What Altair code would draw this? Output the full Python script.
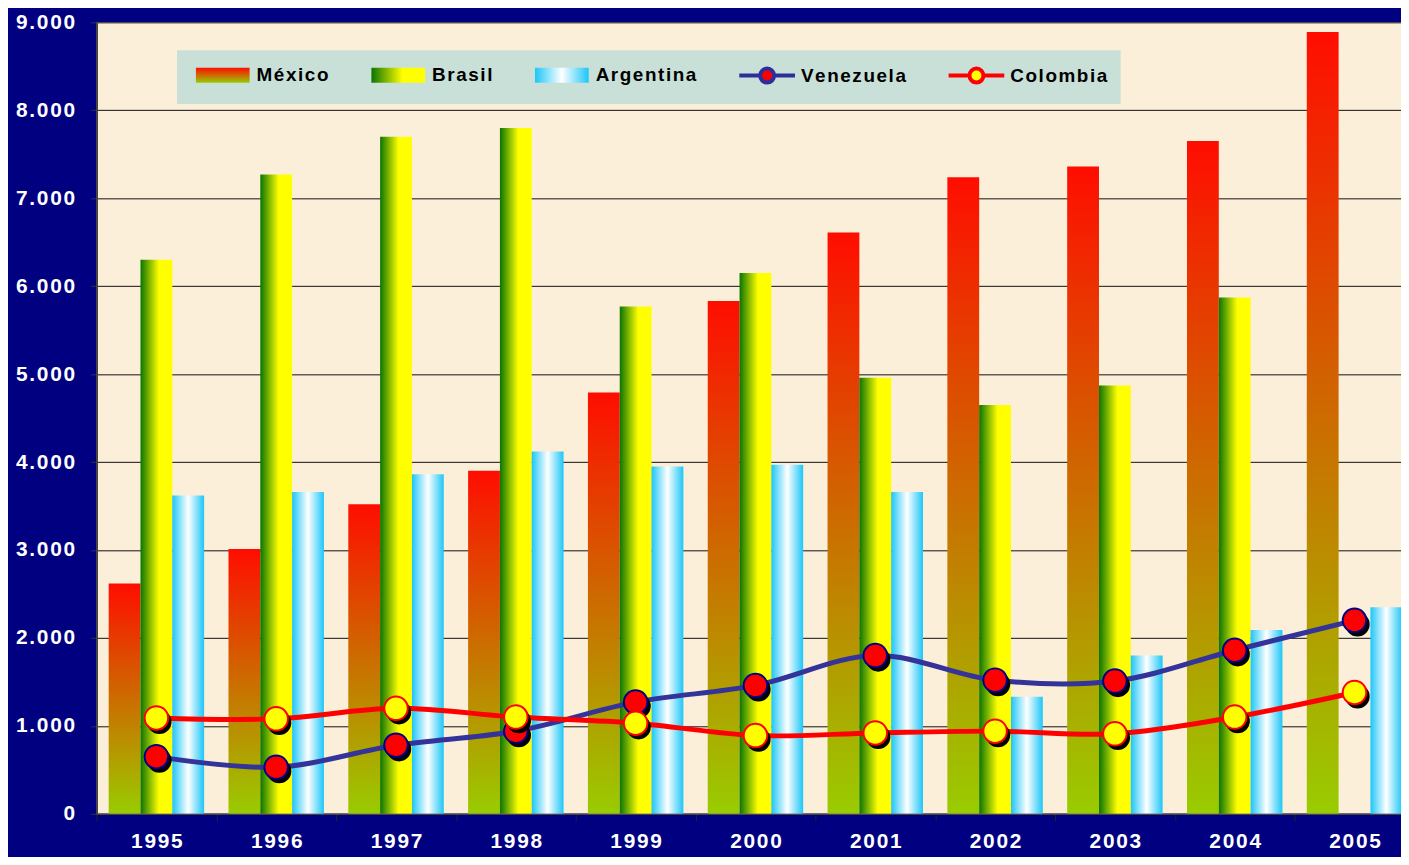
import json
import altair as alt
import pandas as pd

# ---------------- data ----------------
years = ["1995", "1996", "1997", "1998", "1999", "2000",
         "2001", "2002", "2003", "2004", "2005"]
bar_series = ["México", "Brasil", "Argentina"]
line_series = ["Venezuela", "Colombia"]
all_series = bar_series + line_series

mexico = [2620, 3010, 3520, 3900, 4790, 5830, 6610, 7240, 7360, 7650, 8890]
brasil = [6300, 7270, 7700, 7800, 5770, 6150, 4960, 4650, 4870, 5870, None]
argentina = [3620, 3660, 3860, 4120, 3950, 3970, 3660, 1330, 1800, 2090, 2350]
venezuela = [650, 530, 780, 940, 1270, 1460, 1800, 1520, 1510, 1860, 2200]
colombia = [1090, 1080, 1200, 1100, 1030, 890, 920, 940, 910, 1100, 1380]
y_ticks = [0, 1000, 2000, 3000, 4000, 5000, 6000, 7000, 8000, 9000]

rows = []
for name, vals in zip(bar_series, [mexico, brasil, argentina]):
    for yr, v in zip(years, vals):
        if v is not None:
            rows.append({"series": name, "year": yr, "value": v})
bars_df = pd.DataFrame(rows)

rows = []
for name, vals in zip(line_series, [venezuela, colombia]):
    for yr, v in zip(years, vals):
        rows.append({"series": name, "year": yr, "value": v})
lines_df = pd.DataFrame(rows)

# ---------------- styles ----------------
FONT = "Liberation Sans, Arial, sans-serif"
HS = "\u200A"
spaced = "join(split(datum.label, ''), '" + HS + "')"
y_label = ("datum.value === 0 ? '0' : join(split(replace(format(datum.value, ','), ',', '.'), ''), '"
           + HS + "')")

def grad(stops, vertical):
    return {"gradient": "linear", "x1": 0, "y1": 0,
            "x2": 0 if vertical else 1, "y2": 1 if vertical else 0,
            "stops": [{"offset": o, "color": c} for o, c in stops]}

g_mx = grad([(0, "#FF0D00"), (1, "#99CC00")], True)
g_br = grad([(0, "#0B7400"), (0.58, "#FFFF00"), (1, "#FFFF00")], False)
g_ar = grad([(0, "#1CC6F8"), (0.5, "#FFFFFF"), (1, "#1CC6F8")], False)
bar_grads = {"México": g_mx, "Brasil": g_br, "Argentina": g_ar}

x_enc = alt.X(
    "year:N", sort=years,
    scale=alt.Scale(domain=years, paddingInner=0, paddingOuter=0),
    axis=alt.Axis(title=None, labelExpr=spaced, labelAngle=0, tickBand="extent",
                  tickSize=7, tickColor="#222222", domainColor="#444444", domainWidth=1.5,
                  labelPadding=10, grid=False),
)
y_enc = alt.Y(
    "value:Q",
    scale=alt.Scale(domain=[0, 9000], nice=False),
    axis=alt.Axis(title=None, values=y_ticks, labelExpr=y_label, tickSize=6,
                  tickColor="#333333", domainColor="#444444", domainWidth=2,
                  labelPadding=16, grid=True, gridColor="#111111", gridWidth=1),
)
xoff = alt.XOffset("series:N",
                   scale=alt.Scale(domain=bar_series, paddingInner=0, paddingOuter=0.383))

layers = []
for name in bar_series:
    layers.append(
        alt.Chart(bars_df).transform_filter(alt.datum.series == name)
        .mark_bar(color=bar_grads[name], clip=True)
        .encode(x=x_enc, xOffset=xoff, y=y_enc)
    )

line_style = {
    "Venezuela": ("#333399", "#FF0000", "#000080"),
    "Colombia": ("#FF0000", "#FFFF00", "#FF0000"),
}
for name in line_series:
    lc, fc, sc = line_style[name]
    base = alt.Chart(lines_df).transform_filter(alt.datum.series == name)
    layers.append(base.mark_line(color=lc, strokeWidth=5, interpolate="catmull-rom", clip=True)
                  .encode(x=x_enc, y=y_enc))
    layers.append(base.mark_circle(color="black", size=600, opacity=1, xOffset=3, yOffset=4, clip=True)
                  .encode(x=x_enc, y=y_enc))
    layers.append(base.mark_circle(fill=fc, stroke=sc, strokeWidth=2, size=560, opacity=1, clip=True)
                  .encode(x=x_enc, y=y_enc))

# ---------------- legend (built from the scales of an empty layer) ----------------
RECT_PATH = "M-2.7,-0.75H2.7V0.75H-2.7Z"
LINE_PATH = ("M-2.8,0H-0.7M0.7,0H2.8M0.7,0A0.7,0.7 0 1 1 -0.7,0"
             "A0.7,0.7 0 1 1 0.7,0Z")

def gexpr(g):
    return alt.ExprRef(expr=json.dumps(g))

legend = alt.Legend(
    title=None, orient="none", legendX=81, legendY=28,
    direction="horizontal", columns=5,
    fillColor="#C8E0D8", padding=13, columnPadding=34.5,
    symbolSize=400, symbolOffset=21, labelOffset=22,
    symbolOpacity=1, symbolStrokeWidth=4,
    labelFont=FONT, labelFontSize=19, labelFontWeight="bold",
    labelColor="black", labelExpr=spaced, labelLimit=0,
)

legend_layer = (
    alt.Chart(lines_df).transform_filter("false").mark_point(filled=True)
    .encode(
        x=x_enc, y=y_enc,
        color=alt.Color("series:N", legend=legend,
                        scale=alt.Scale(domain=all_series,
                                        range=[gexpr(g_mx), gexpr(g_br), gexpr(g_ar),
                                               "#FF0000", "#FFFF00"])),
        stroke=alt.Stroke("series:N", legend=legend,
                          scale=alt.Scale(domain=all_series,
                                          range=["transparent", "transparent", "transparent",
                                                 "#2E2E99", "#FF0000"])),
        shape=alt.Shape("series:N", legend=legend,
                        scale=alt.Scale(domain=all_series,
                                        range=[RECT_PATH, RECT_PATH, RECT_PATH,
                                               LINE_PATH, LINE_PATH])),
    )
)
layers.append(legend_layer)

chart = (
    alt.layer(*layers)
    .properties(width=1325.5, height=796,
                padding={"left": 89, "top": 12, "right": -13.5, "bottom": 41},
                autosize=alt.AutoSizeParams(type="none"))
    .configure(background="#000080")
    .configure_view(fill="#FCEFD9", stroke=None)
    .configure_axis(labelFont=FONT, labelFontSize=21, labelFontWeight="bold",
                    labelColor="white")
)

chart.save("out.html", embed_options={"renderer": "svg", "actions": False})
